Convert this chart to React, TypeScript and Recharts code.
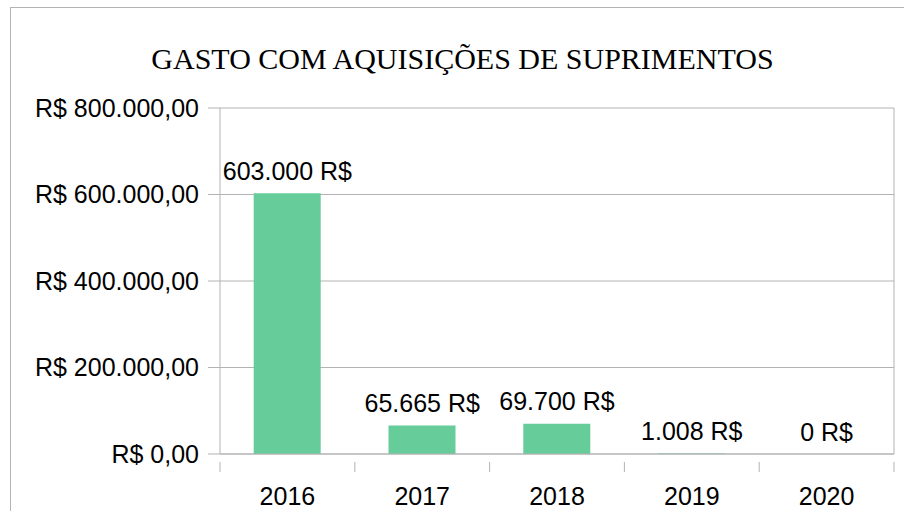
// @ts-nocheck
import { ComposedChart, Bar, Line, XAxis, YAxis, CartesianGrid, LabelList } from 'recharts';
import type { ReactElement } from 'react';

const TITLE = 'GASTO COM AQUISIÇÕES DE SUPRIMENTOS';
const years = ['2016', '2017', '2018', '2019', '2020'];
const spending = [603000, 65665, 69700, 1008, 0];
const yTicks = [0, 200000, 400000, 600000, 800000];

const GRID = '#b3b3b3';
const BAR = '#66cc99';
const FONT = '"Liberation Sans", Arial, sans-serif';

const chartData = years.map((year, i) => ({ year, value: spending[i] }));

const brl = (v: number, decimals: number) =>
  v.toLocaleString('pt-BR', { minimumFractionDigits: decimals, maximumFractionDigits: decimals });

function YearTick(props: any) {
  const { x, y, payload, index } = props;
  const half = payload?.offset ?? 67.4;
  const last = index === years.length - 1;
  return (
    <g>
      <line x1={x - half} x2={x - half} y1={y} y2={y + 10} stroke={GRID} />
      {last && <line x1={x + half} x2={x + half} y1={y} y2={y + 10} stroke={GRID} />}
      <text x={x} y={y + 43} textAnchor="middle" fontFamily={FONT} fontSize={25} fill="#000">
        {payload.value}
      </text>
    </g>
  );
}

// labels hang off an invisible line so the zero bar still gets its "0 R$"
function ValueLabel(props: any) {
  const { x, y, width, value } = props;
  return (
    <text x={x + (width || 0) / 2} y={y - 13.5} textAnchor="middle" fontFamily={FONT} fontSize={25} fill="#000">
      {`${brl(Number(value ?? 0), 0)} R$`}
    </text>
  );
}

export default function App(): ReactElement {
  return (
    <div style={{ position: 'absolute', left: 0, top: 0, width: 904, height: 511, background: '#fff', overflow: 'hidden' }}>
      <div style={{ position: 'absolute', left: 10, top: 7, width: 1000, height: 1000, border: `1px solid ${GRID}` }} />
      <div
        style={{
          position: 'absolute',
          left: 0,
          top: 44,
          width: 925,
          textAlign: 'center',
          fontFamily: '"Liberation Serif", "Times New Roman", serif',
          fontSize: 30,
          lineHeight: '30px',
          color: '#000',
          whiteSpace: 'nowrap',
        }}
      >
        {TITLE}
      </div>
      <div style={{ position: 'absolute', left: 0, top: 0 }}>
        <ComposedChart
          width={904}
          height={511}
          data={chartData}
          margin={{ top: 108, right: 0, bottom: 0, left: 0 }}
          barCategoryGap="25%"
        >
          <CartesianGrid vertical={false} stroke={GRID} />
          <XAxis
            dataKey="year"
            height={57}
            axisLine={{ stroke: GRID }}
            tickLine={false}
            tick={<YearTick />}
            interval={0}
          />
          <YAxis
            width={220}
            domain={[0, 800000]}
            ticks={yTicks}
            tickSize={12}
            tickMargin={9}
            axisLine={{ stroke: GRID }}
            tickLine={{ stroke: GRID }}
            tickFormatter={(v) => `R$ ${brl(v, 2)}`}
            tick={{ fontFamily: FONT, fontSize: 25, fill: '#000' }}
          />
          <YAxis
            yAxisId="right"
            orientation="right"
            width={10}
            domain={[0, 800000]}
            tick={false}
            tickLine={false}
            axisLine={{ stroke: GRID }}
          />
          <Bar dataKey="value" fill={BAR} isAnimationActive={false} />
          <Line
            dataKey="value"
            stroke="none"
            dot={false}
            activeDot={false}
            legendType="none"
            isAnimationActive={false}
          >
            <LabelList dataKey="value" content={<ValueLabel />} />
          </Line>
        </ComposedChart>
      </div>
    </div>
  );
}
